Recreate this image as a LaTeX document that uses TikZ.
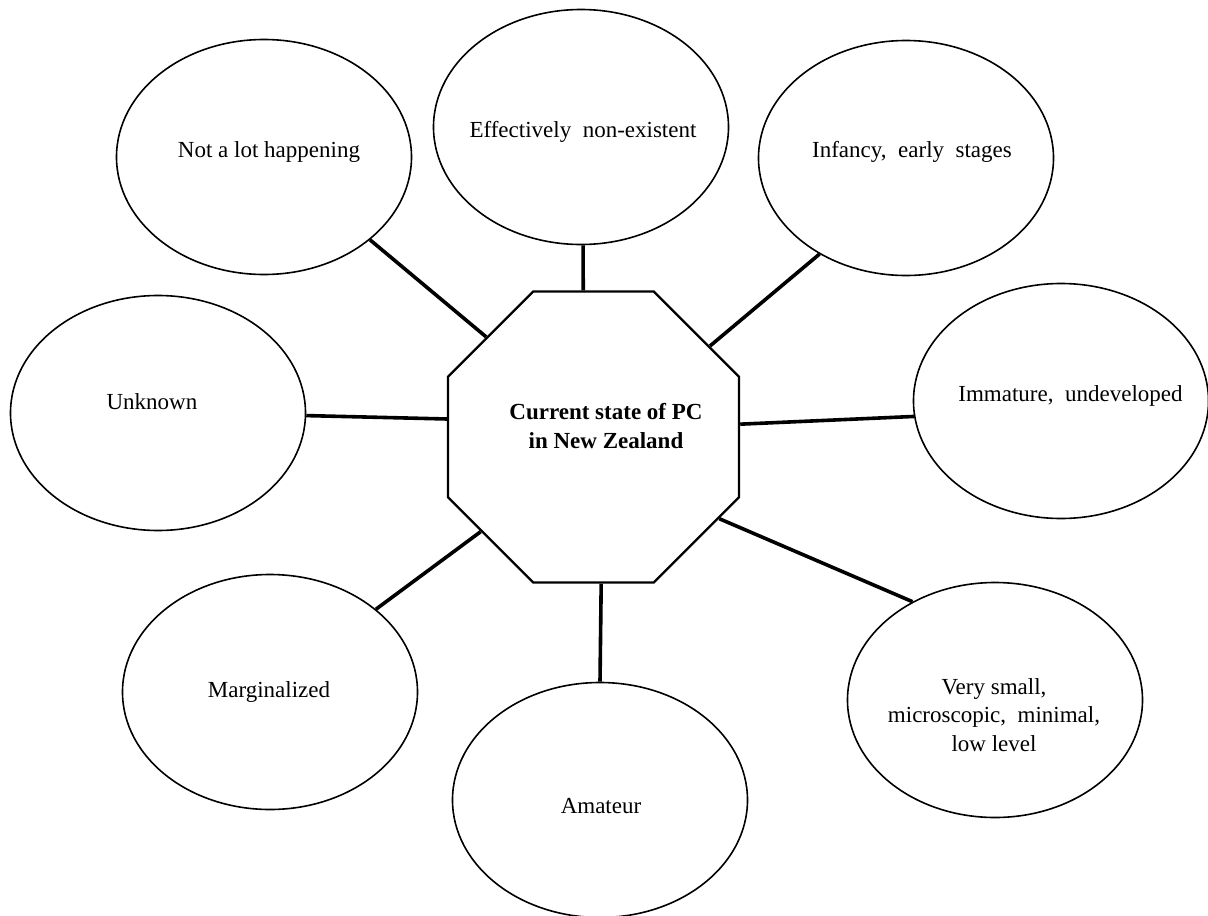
\documentclass[tikz,border=0pt]{standalone}
\usepackage{fontspec}
\setmainfont{Liberation Serif}
\usetikzlibrary{shapes.geometric}

\tikzset{
  bubble/.style={draw=black, line width=1.6pt, ellipse, fill=white,
    minimum width=295pt, minimum height=235pt, inner sep=0pt},
  hub/.style={draw=black, line width=2.4pt, regular polygon, regular polygon sides=8,
    minimum size=315pt, inner sep=0pt, fill=white},
  label/.style={font=\fontsize{23}{28.5}\selectfont, inner sep=0pt, anchor=base, align=center},
  hublabel/.style={label, font=\fontsize{23}{28.5}\selectfont\bfseries},
  spoke/.style={draw=black, line width=3.6pt}
}

\begin{document}
\begin{tikzpicture}[x=1pt, y=-1pt]
  \useasboundingbox (0,0) rectangle (1208,916);

  % central octagon
  \node[hub] (hub) at (593.5,437) {};

  % surrounding ellipses
  \node[bubble] (e1) at (264,157) {};
  \node[bubble] (e2) at (581,127) {};
  \node[bubble] (e3) at (906,158) {};
  \node[bubble] (e4) at (1061,401) {};
  \node[bubble] (e5) at (158,413) {};
  \node[bubble] (e6) at (270,692) {};
  \node[bubble] (e7) at (600,800) {};
  \node[bubble] (e8) at (995,700) {};

  % spokes from the hub to each ellipse
  \draw[spoke] (hub.137.4) -- (e1.-38.5);
  \draw[spoke] (hub.94.5)  -- (e2.-89.5);
  \draw[spoke] (hub.38.3)  -- (e3.228.2);
  \draw[spoke] (hub.5.5)   -- (e4.186.6);
  \draw[spoke] (hub.173.3) -- (e5.-1.2);
  \draw[spoke] (hub.220.7) -- (e6.38.1);
  \draw[spoke] (hub.-87.5) -- (e7.90);
  \draw[spoke] (hub.-33.9) -- (e8.130.5);

  % texts (base anchor sits on the last line of multi-line labels)
  \node[hublabel] (thub) at (606,448) {Current state of PC\\in New Zealand};
  \node[label] (t1) at (269,157) {Not a lot happening};
  \node[label] (t2) at (583,137) {Effectively\ \ non-existent};
  \node[label] (t3) at (912,157) {Infancy,\ \ early\ \ stages};
  \node[label] (t4) at (1070.5,401) {Immature,\ \ undeveloped};
  \node[label] (t5) at (152,409) {Unknown};
  \node[label] (t6) at (269,697) {Marginalized};
  \node[label] (t7) at (601,813) {Amateur};
  \node[label] (t8) at (994,751) {Very small,\\microscopic,\ \ minimal,\\low level};
\end{tikzpicture}
\end{document}
